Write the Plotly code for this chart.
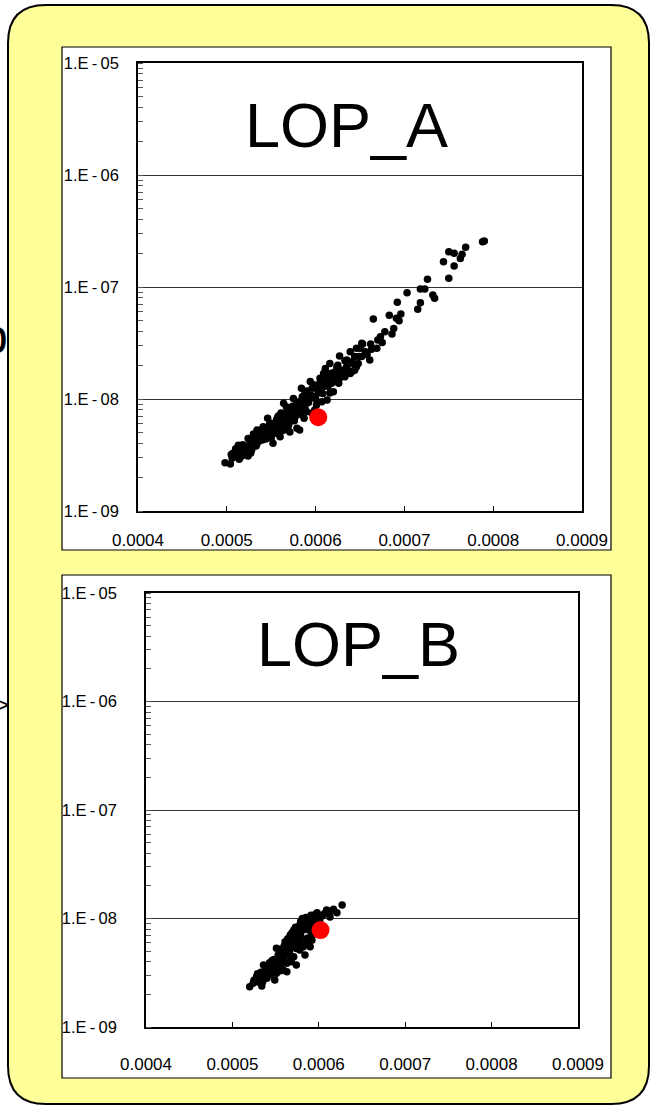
import plotly.graph_objects as go

# ---------------- data ----------------
# Panel LOP_A (x in units of 1e-4)
a_x_e4 = [4.98, 5.06, 5.10, 5.07, 5.17, 5.15, 5.20, 5.24, 5.19, 5.26, 5.24, 5.32, 5.35, 5.30, 5.39,
          5.43, 5.47, 5.34, 5.41, 5.52, 5.49, 5.56, 5.58, 5.62, 5.66, 5.64, 5.56, 5.52, 5.60, 5.69,
          5.73, 5.79, 5.82, 5.77, 5.66, 5.67, 5.64, 5.75, 5.73, 5.82, 5.86, 5.81, 5.90, 5.84, 5.88,
          5.94, 5.96, 5.97, 6.01, 5.99, 5.96, 6.07, 6.03, 6.09, 6.07, 6.11, 6.16, 6.14, 6.18, 6.16,
          6.13, 6.20, 6.24, 6.26, 6.29, 6.27, 6.35, 6.41, 6.39, 6.44, 6.48, 6.52, 6.50, 6.52, 6.41,
          6.33, 6.53, 6.46, 6.56, 6.49, 6.61, 6.69, 6.63, 6.70, 6.73, 6.78, 6.86, 6.88, 6.65, 6.83,
          6.96, 6.91, 6.94, 6.92, 7.03, 7.15, 7.18, 7.18, 7.23, 7.26, 7.32, 7.34, 7.50, 7.44, 7.56,
          7.50, 7.56, 7.65, 7.69, 7.63, 7.88, 7.90,
          6.35, 6.42, 6.46, 6.24, 6.11, 6.31, 6.39, 6.09, 6.20, 6.05, 6.27,
          5.40, 5.49, 5.69, 5.71, 5.91, 5.87, 5.78, 5.46, 5.28, 5.13, 5.04, 5.58, 6.12, 5.99,
          5.05, 5.12, 5.14, 5.22, 5.27, 5.29, 5.31, 5.33, 5.36, 5.38, 5.40, 5.42, 5.45, 5.48, 5.50,
          5.51, 5.54, 5.55, 5.57, 5.59, 5.61, 5.63, 5.65, 5.68, 5.70, 5.72, 5.74, 5.76, 5.78, 5.80,
          5.83, 5.85, 5.88, 5.90, 5.92, 5.95, 5.98, 6.00, 6.02, 6.05, 6.08, 6.10, 6.14, 6.18, 6.22,
          6.25, 6.30, 6.33, 6.37, 6.44, 6.58, 6.62, 6.75,
          5.10, 5.18, 5.21, 5.25, 5.34, 5.37, 5.44, 5.47, 5.53, 5.58, 5.62, 5.67, 5.71, 5.75, 5.80,
          5.86, 5.93, 6.04, 6.15, 6.22]
a_y = [2.70e-9, 2.96e-9, 3.06e-9, 3.28e-9, 3.10e-9, 3.51e-9, 3.38e-9, 3.10e-9, 3.75e-9, 4.02e-9,
       4.45e-9, 4.16e-9, 4.61e-9, 4.87e-9, 5.10e-9, 4.61e-9, 5.28e-9, 5.28e-9, 5.66e-9, 5.66e-9,
       6.07e-9, 6.49e-9, 7.05e-9, 6.27e-9, 5.86e-9, 5.28e-9, 4.94e-9, 4.02e-9, 4.61e-9, 5.66e-9,
       6.49e-9, 5.47e-9, 5.28e-9, 6.95e-9, 7.45e-9, 8.53e-9, 9.16e-9, 1.01e-8, 7.97e-9, 7.97e-9,
       8.84e-9, 9.46e-9, 7.70e-9, 1.25e-8, 1.13e-8, 1.43e-8, 1.25e-8, 1.05e-8, 8.84e-9, 7.97e-9,
       7.45e-9, 9.46e-9, 1.13e-8, 1.29e-8, 1.53e-8, 1.81e-8, 2.08e-8, 1.64e-8, 1.38e-8, 1.13e-8,
       9.80e-9, 1.16e-8, 1.58e-8, 1.38e-8, 1.81e-8, 2.42e-8, 1.94e-8, 2.15e-8, 2.64e-8, 1.81e-8,
       2.08e-8, 2.39e-8, 2.84e-8, 3.14e-8, 1.76e-8, 1.58e-8, 3.10e-8, 2.84e-8, 2.64e-8, 2.39e-8,
       2.23e-8, 2.84e-8, 2.78e-8, 3.36e-8, 3.60e-8, 3.99e-8, 3.80e-8, 4.27e-8, 5.18e-8, 5.59e-8,
       5.74e-8, 5.25e-8, 5.00e-8, 7.29e-8, 8.89e-8, 6.33e-8, 7.25e-8, 9.59e-8, 9.59e-8, 1.17e-7,
       8.49e-8, 7.93e-8, 1.20e-7, 1.68e-7, 1.54e-7, 2.06e-7, 2.00e-7, 1.96e-7, 2.26e-7, 1.80e-7,
       2.54e-7, 2.57e-7,
       2.23e-8, 2.08e-8, 1.94e-8, 1.94e-8, 1.87e-8, 1.81e-8, 1.69e-8, 1.69e-8, 1.58e-8, 1.53e-8, 1.53e-8,
       4.30e-9, 4.74e-9, 6.74e-9, 5.07e-9, 9.80e-9, 6.74e-9, 8.84e-9, 6.74e-9, 3.51e-9, 3.87e-9,
       2.63e-9, 5.86e-9, 1.48e-8, 1.05e-8,
       3.2e-9, 3.3e-9, 2.9e-9, 3.6e-9, 3.3e-9, 3.9e-9, 4.4e-9, 3.8e-9, 4.2e-9, 4.7e-9,
       5.4e-9, 4.9e-9, 5.0e-9, 5.9e-9, 4.5e-9, 5.4e-9, 6.1e-9, 5.3e-9, 6.8e-9, 5.6e-9,
       7.5e-9, 6.7e-9, 6.3e-9, 7.9e-9, 6.0e-9, 7.2e-9, 8.6e-9, 6.4e-9, 7.7e-9, 9.0e-9,
       7.3e-9, 1.05e-8, 8.4e-9, 1.18e-8, 9.3e-9, 1.08e-8, 1.34e-8, 1.0e-8, 1.22e-8, 1.4e-8,
       1.12e-8, 1.6e-8, 1.3e-8, 1.7e-8, 1.5e-8, 2.0e-8, 1.65e-8, 2.2e-8, 1.8e-8, 2.4e-8,
       2.5e-8, 3.1e-8, 3.2e-8,
       3.6e-9, 3.9e-9, 3.2e-9, 4.4e-9, 4.0e-9, 5.0e-9, 4.4e-9, 5.6e-9, 5.0e-9, 6.3e-9,
       5.2e-9, 6.9e-9, 7.6e-9, 7.0e-9, 8.2e-9, 9.5e-9, 1.0e-8, 1.3e-8, 1.45e-8, 1.75e-8]
a_ref_x_e4 = [6.03]
a_ref_y = [6.87e-9]

# Panel LOP_B (x in units of 1e-4)
b_x_e4 = [5.20, 5.24, 5.34, 5.32, 5.38, 5.36, 5.44, 5.47, 5.53, 5.59, 5.51, 5.61, 5.67, 5.71, 5.78,
          5.86, 5.90, 5.51, 5.59, 5.63, 5.71, 5.78, 5.86, 5.92, 5.94, 5.82, 5.73, 5.65, 5.55, 5.46,
          5.40, 5.49, 5.90, 5.84, 5.74, 5.63, 5.96, 6.03, 6.13, 6.17, 6.21, 6.27,
          5.76, 5.81, 5.89, 5.68, 5.56, 5.42, 5.30, 5.97, 6.07, 5.74, 5.62, 5.49, 5.92, 6.00,
          5.25, 5.28, 5.33, 5.37, 5.40, 5.43, 5.45, 5.48, 5.50, 5.52, 5.54, 5.57, 5.58, 5.60, 5.61,
          5.63, 5.64, 5.66, 5.67, 5.69, 5.70, 5.72, 5.73, 5.75, 5.77, 5.79, 5.80, 5.83, 5.85, 5.87,
          5.88, 5.93, 5.95, 5.98, 6.01, 6.05, 6.10, 6.15, 5.35, 5.56, 5.68, 5.82,
          5.29, 5.41, 5.46, 5.52, 5.55, 5.60, 5.65, 5.70, 5.76, 5.79, 5.84, 5.88, 5.91, 5.96, 6.09]
b_y = [2.35e-9, 2.53e-9, 2.39e-9, 2.91e-9, 3.35e-9, 3.73e-9, 3.47e-9, 4.00e-9, 4.61e-9, 4.94e-9,
       5.31e-9, 6.11e-9, 7.05e-9, 7.83e-9, 8.72e-9, 9.68e-9, 9.35e-9, 3.13e-9, 3.35e-9, 3.86e-9,
       4.45e-9, 5.13e-9, 5.90e-9, 7.05e-9, 8.40e-9, 7.83e-9, 6.11e-9, 5.13e-9, 4.00e-9, 3.13e-9,
       2.81e-9, 2.71e-9, 5.49e-9, 4.61e-9, 3.73e-9, 3.23e-9, 1.09e-8, 1.05e-8, 1.03e-8, 1.22e-8,
       1.13e-8, 1.33e-8,
       6.60e-9, 1.00e-8, 7.80e-9, 4.30e-9, 3.60e-9, 3.00e-9, 2.60e-9, 9.20e-9, 1.12e-8, 5.30e-9,
       4.60e-9, 3.70e-9, 6.30e-9, 7.60e-9,
       2.7e-9, 2.9e-9, 3.2e-9, 3.0e-9, 3.5e-9, 3.9e-9, 3.3e-9, 4.2e-9, 3.9e-9, 3.5e-9,
       4.4e-9, 5.0e-9, 4.2e-9, 5.6e-9, 4.0e-9, 5.3e-9, 6.5e-9, 4.9e-9, 5.9e-9, 7.4e-9,
       5.5e-9, 6.8e-9, 8.3e-9, 5.8e-9, 7.4e-9, 9.4e-9, 6.1e-9, 8.9e-9, 1.02e-8, 6.6e-9,
       8.3e-9, 1.0e-8, 7.2e-9, 1.13e-8, 9.6e-9, 1.08e-8, 1.15e-8, 1.18e-8, 2.6e-9, 3.3e-9,
       4.0e-9, 5.5e-9,
       3.1e-9, 3.7e-9, 4.1e-9, 4.1e-9, 5.2e-9, 4.6e-9, 6.2e-9, 6.3e-9, 7.9e-9, 6.9e-9,
       9.6e-9, 9.0e-9, 1.07e-8, 9.9e-9, 1.2e-8]
b_ref_x_e4 = [6.02]
b_ref_y = [7.83e-9]

x_tick_vals_e4 = [4, 5, 6, 7, 8, 9]
x_tick_text = ["0.0004", "0.0005", "0.0006", "0.0007", "0.0008", "0.0009"]
y_tick_vals = [1e-9, 1e-8, 1e-7, 1e-6, 1e-5]
y_tick_text = ["1.E\u2009-\u200909", "1.E\u2009-\u200908", "1.E\u2009-\u200907",
               "1.E\u2009-\u200906", "1.E\u2009-\u200905"]
titles = ["LOP_A", "LOP_B"]
edge_fragments = ["p", ">"]

# ---------------- figure ----------------
W, H = 652, 1107
FONT = "Liberation Sans, Arial, sans-serif"


def px(xp):
    return xp / W


def py(yp):
    return 1 - yp / H


fig = go.Figure()

panels = [
    dict(xs=a_x_e4, ys=a_y, rx=a_ref_x_e4, ry=a_ref_y, xa="x", ya="y"),
    dict(xs=b_x_e4, ys=b_y, rx=b_ref_x_e4, ry=b_ref_y, xa="x2", ya="y2"),
]
for p in panels:
    fig.add_trace(go.Scatter(x=[v * 1e-4 for v in p["xs"]], y=p["ys"], mode="markers",
                             marker=dict(color="black", size=7.5, line=dict(width=0)),
                             xaxis=p["xa"], yaxis=p["ya"], showlegend=False, hoverinfo="skip"))
    fig.add_trace(go.Scatter(x=[v * 1e-4 for v in p["rx"]], y=p["ry"], mode="markers",
                             marker=dict(color="#FF0000", size=18, line=dict(width=0)),
                             xaxis=p["xa"], yaxis=p["ya"], showlegend=False, hoverinfo="skip"))

# plot-area pixel geometry
geo = [
    dict(x0=138, x1=582, y0=63, y1=511, xstand=13, ystand=14),
    dict(x0=146, x1=578, y0=593, y1=1027, xstand=21, ystand=24),
]


def xaxis_cfg(g):
    return dict(domain=[px(g["x0"]), px(g["x1"])], range=[0.0004, 0.0009],
                tickvals=[v * 1e-4 for v in x_tick_vals_e4], ticktext=x_tick_text,
                ticks="inside", ticklen=5, tickwidth=1, tickcolor="black",
                showline=True, linecolor="black", linewidth=1.5, mirror=True,
                showgrid=False, zeroline=False, ticklabelstandoff=g["xstand"],
                automargin=False,
                tickfont=dict(family=FONT, size=17, color="black"), fixedrange=True)


def yaxis_cfg(g, anchor):
    return dict(domain=[py(g["y1"]), py(g["y0"])], type="log", range=[-9, -5],
                tickvals=y_tick_vals, ticktext=y_tick_text, anchor=anchor,
                ticks="", showline=True, linecolor="black", linewidth=1.5, mirror=True,
                showgrid=True, gridcolor="#333333", gridwidth=1, zeroline=False,
                ticklabelstandoff=g["ystand"], automargin=False,
                minor=dict(ticks="inside", ticklen=5, tickcolor="#555555", tickwidth=1,
                           showgrid=False, dtick="D1"),
                tickfont=dict(family=FONT, size=16.5, color="black"), fixedrange=True)


shapes = []
# yellow rounded background
L, T, R, B, r = 8, 5, 649, 1104, 38
path = (f"M {px(L+r)},{py(T)} L {px(R-r)},{py(T)} Q {px(R)},{py(T)} {px(R)},{py(T+r)} "
        f"L {px(R)},{py(B-r)} Q {px(R)},{py(B)} {px(R-r)},{py(B)} "
        f"L {px(L+r)},{py(B)} Q {px(L)},{py(B)} {px(L)},{py(B-r)} "
        f"L {px(L)},{py(T+r)} Q {px(L)},{py(T)} {px(L+r)},{py(T)} Z")
shapes.append(dict(type="path", path=path, xref="paper", yref="paper",
                   fillcolor="#FFFF99", line=dict(color="black", width=2), layer="below"))
# white panels
for (x0, y0, x1, y1) in [(62, 47, 611, 550), (62, 575, 611, 1078)]:
    shapes.append(dict(type="rect", xref="paper", yref="paper",
                       x0=px(x0), x1=px(x1), y0=py(y1), y1=py(y0),
                       fillcolor="white", line=dict(color="black", width=1.2), layer="below"))

annotations = [
    dict(text=titles[0], x=px(346), y=py(125), xref="paper", yref="paper",
         showarrow=False, font=dict(family=FONT, size=63, color="black"),
         xanchor="center", yanchor="middle"),
    dict(text=titles[1], x=px(358), y=py(644), xref="paper", yref="paper",
         showarrow=False, font=dict(family=FONT, size=63, color="black"),
         xanchor="center", yanchor="middle"),
    dict(text=edge_fragments[0], x=px(9), y=py(336), xref="paper", yref="paper",
         showarrow=False, font=dict(family=FONT, size=48, color="black"),
         xanchor="right", yanchor="middle", borderpad=0),
    dict(text=edge_fragments[1], x=px(10), y=py(704), xref="paper", yref="paper",
         showarrow=False, font=dict(family=FONT, size=24, color="black"),
         xanchor="right", yanchor="middle", borderpad=0),
]

fig.update_layout(
    width=W, height=H,
    margin=dict(l=0, r=0, t=0, b=0, pad=0, autoexpand=False),
    paper_bgcolor="white", plot_bgcolor="rgba(0,0,0,0)",
    xaxis=xaxis_cfg(geo[0]), yaxis=yaxis_cfg(geo[0], "x"),
    xaxis2=dict(xaxis_cfg(geo[1]), anchor="y2"), yaxis2=yaxis_cfg(geo[1], "x2"),
    shapes=shapes, annotations=annotations, showlegend=False,
)
fig.update_layout(xaxis=dict(anchor="y"))

fig.write_html("out.html", config={"displayModeBar": False})
